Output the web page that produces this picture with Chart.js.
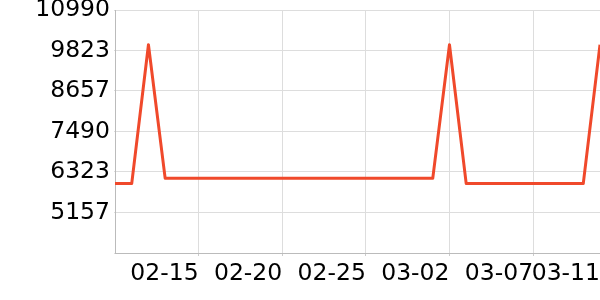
<!DOCTYPE html>
<html>
<head>
<meta charset="utf-8">
<script src="https://cdn.jsdelivr.net/npm/chart.js@4/dist/chart.umd.min.js"></script>
<style>
html,body{margin:0;padding:0;background:#fff;}
#wrap{width:600px;height:300px;}
</style>
</head>
<body>
<div id="wrap"><canvas id="c" width="600" height="300"></canvas></div>
<script>
const categories = ["02-10","02-11","02-12","02-13","02-14","02-15","02-16","02-17","02-18","02-19","02-20","02-21","02-22","02-23","02-24","02-25","02-26","02-27","02-28","03-01","03-02","03-03","03-04","03-05","03-06","03-07","03-08","03-09","03-10","03-11"];
const values = [5990,5990,9990,6140,6140,6140,6140,6140,6140,6140,6140,6140,6140,6140,6140,6140,6140,6140,6140,6140,9990,5990,5990,5990,5990,5990,5990,5990,5990,9990];
const shownTickIndices = [5,10,15,20,25,29];
const yMin = 3990, yMax = 10990;

new Chart(document.getElementById('c'), {
  type: 'line',
  data: {
    labels: categories,
    datasets: [{
      data: values,
      borderColor: '#f0492b',
      backgroundColor: '#f0492b',
      borderWidth: 3,
      pointRadius: 0,
      tension: 0,
      borderJoinStyle: 'round',
      fill: false
    }]
  },
  options: {
    responsive: false,
    animation: false,
    devicePixelRatio: 1,
    layout: { padding: 0 },
    plugins: { legend: { display: false }, tooltip: { enabled: false } },
    scales: {
      x: {
        type: 'category',
        border: { color: '#bbbbbb' },
        grid: {
          color: ctx => shownTickIndices.includes(ctx.index) ? '#dddddd' : 'rgba(0,0,0,0)',
          tickColor: ctx => shownTickIndices.includes(ctx.index) ? '#cccccc' : 'rgba(0,0,0,0)',
          tickLength: 3
        },
        ticks: {
          autoSkip: false,
          maxRotation: 0,
          minRotation: 0,
          align: 'end',
          padding: 4,
          color: '#000',
          font: { family: 'DejaVu Sans', size: 23.5 },
          callback: (v, i) => shownTickIndices.includes(i) ? categories[i] : ''
        },
        afterFit: s => { s.height = 47; s.paddingLeft = 0; s.paddingRight = 0; }
      },
      y: {
        min: yMin,
        max: yMax,
        border: { color: '#bbbbbb' },
        grid: { color: '#dddddd', tickLength: 1 },
        ticks: {
          stepSize: (yMax - yMin) / 6,
          padding: 4,
          color: '#000',
          font: { family: 'DejaVu Sans', size: 23.5 },
          callback: v => (Math.abs(v - yMin) < 1) ? '' : String(Math.round(v))
        },
        afterFit: s => { s.width = 115; s.paddingTop = 10; s.paddingBottom = 0; }
      }
    }
  }
});
</script>
</body>
</html>
